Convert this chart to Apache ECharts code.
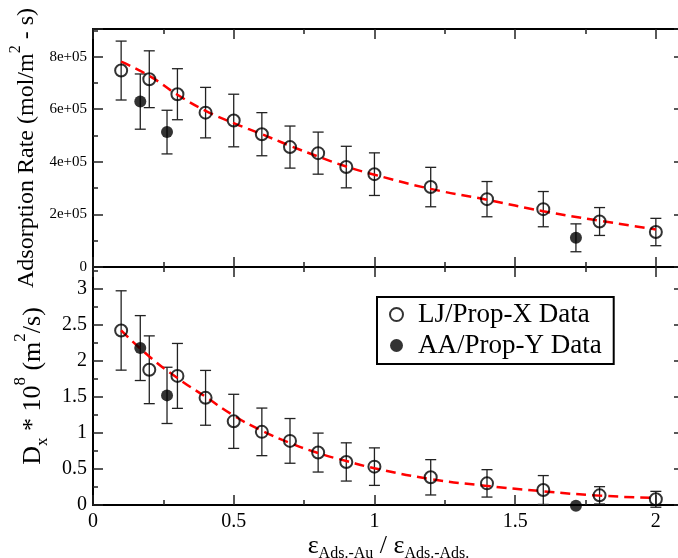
<!DOCTYPE html>
<html><head><meta charset="utf-8">
<script src="https://cdn.jsdelivr.net/npm/echarts@6/dist/echarts.min.js"></script>
<style>html,body{margin:0;padding:0;background:#fff}#c{width:678px;height:558px}</style>
</head><body><div id="c"></div><script>
// ---- data ----
const xLJ = [0.1, 0.2, 0.3, 0.4, 0.5, 0.6, 0.7, 0.8, 0.9, 1.0, 1.2, 1.4, 1.6, 1.8, 2.0];
const rateLJ = [747000, 714000, 657000, 587000, 557000, 505000, 456000, 433000, 380000, 353000, 304000, 258000, 220000, 173000, 133000];
const rateLJErr = [112000, 108000, 97000, 96000, 100000, 82000, 80000, 80000, 79000, 81000, 75000, 67000, 67000, 53000, 52000];
const rateFit = [781000, 727000, 655000, 594000, 547000, 505000, 461000, 420000, 382000, 351000, 297000, 256000, 212000, 176000, 143000];
const xAA = [0.168, 0.263, 1.716];
const rateAA = [629000, 513000, 111000];
const rateAAErr = [105000, 83000, 53000];
const diffLJ = [2.42, 1.875, 1.79, 1.486, 1.16, 1.014, 0.889, 0.727, 0.597, 0.532, 0.384, 0.30, 0.208, 0.134, 0.079];
const diffLJErr = [0.55, 0.47, 0.45, 0.38, 0.375, 0.33, 0.31, 0.27, 0.265, 0.26, 0.245, 0.19, 0.2, 0.12, 0.11];
const diffFit = [2.42, 2.06, 1.76, 1.50, 1.24, 1.03, 0.86, 0.72, 0.61, 0.51, 0.36, 0.265, 0.19, 0.13, 0.097];
const diffAA = [2.176, 1.52, -0.01];
const diffAAErr = [0.45, 0.39, 0];
const xTicks = [0, 0.5, 1, 1.5, 2];
const rateTicks = [0, 200000, 400000, 600000, 800000];
const diffTicks = [0, 0.5, 1, 1.5, 2, 2.5, 3];

const FONT = "'Liberation Serif','DejaVu Serif',serif";
const near = (v, arr) => arr.some(t => Math.abs(t - v) < 1e-6 * Math.max(1, Math.abs(t)));

function axis(kind, g, pos, minor, extra) {
  const a = {
    type: 'value', gridIndex: g, position: pos,
    axisLine: { show: !minor, onZero: false, lineStyle: { color: '#000', width: 2 } },
    axisTick: { show: true, inside: true, length: minor ? 5 : 10, lineStyle: { color: '#222', width: 1.5 } },
    splitLine: { show: false },
    axisLabel: { show: false }
  };
  return Object.assign(a, extra);
}
const xAxes = [], yAxes = [];
for (let g = 0; g < 2; g++) {
  for (const pos of ['bottom', 'top']) {
    for (const minor of [false, true]) {
      const ex = { min: 0, max: 2.1, interval: minor ? 0.25 : 0.5 };
      if (g === 1 && pos === 'bottom' && !minor) {
        ex.axisLabel = { show: true, margin: 7, color: '#000', fontFamily: FONT, fontSize: 20,
          formatter: v => near(v, xTicks) ? String(v) : '' };
        ex.name = '{e|ε}{s|Ads.-Au}{e| / ε}{s|Ads.-Ads.}';
        ex.nameLocation = 'middle';
        ex.nameGap = 18;
        ex.nameTextStyle = { fontFamily: FONT, color: '#000', rich: {
          e: { fontFamily: FONT, fontSize: 26, color: '#000', verticalAlign: 'top', lineHeight: 26 },
          s: { fontFamily: FONT, fontSize: 16, color: '#000', verticalAlign: 'top', padding: [13, 0, 0, 0], lineHeight: 16 } } };
      }
      xAxes.push(axis('x', g, pos, minor, ex));
    }
  }
  for (const pos of ['left', 'right']) {
    for (const minor of [false, true]) {
      const ex = g === 0 ? { min: 0, max: 905000, interval: minor ? 100000 : 200000 }
                         : { min: 0, max: 3.3, interval: minor ? 0.25 : 0.5 };
      if (pos === 'left' && !minor) {
        if (g === 0) {
          ex.axisLabel = { show: true, margin: 6, color: '#000', fontFamily: FONT, fontSize: 15,
            formatter: v => !near(v, rateTicks) ? '' : (v === 0 ? '0' : Math.round(v / 100000) + 'e+05') };
          ex.name = '{n|Adsorption Rate (mol/m}{p|2}{n| - s)}';
          ex.nameGap = 54;
          ex.nameTextStyle = { fontFamily: FONT, color: '#000', rich: {
            n: { fontFamily: FONT, fontSize: 24, color: '#000', verticalAlign: 'top', padding: [7, 0, 0, 0], lineHeight: 24 },
            p: { fontFamily: FONT, fontSize: 16, color: '#000', verticalAlign: 'top', lineHeight: 16 } } };
        } else {
          ex.axisLabel = { show: true, margin: 6, color: '#000', fontFamily: FONT, fontSize: 20,
            formatter: v => near(v, diffTicks) ? String(v) : '' };
          ex.name = '{n|D}{b|x}{n| * 10}{p|8}{n| (m}{p|2}{n|/s)}';
          ex.nameGap = 34;
          ex.nameTextStyle = { fontFamily: FONT, color: '#000', rich: {
            n: { fontFamily: FONT, fontSize: 26, color: '#000', verticalAlign: 'top', padding: [8, 0, 0, 0], lineHeight: 26 },
            p: { fontFamily: FONT, fontSize: 17, color: '#000', verticalAlign: 'top', lineHeight: 17 },
            b: { fontFamily: FONT, fontSize: 17, color: '#000', verticalAlign: 'top', padding: [22, 0, 0, 0], lineHeight: 17 } } };
        }
        ex.nameLocation = 'middle';
        ex.nameRotate = 90;
      }
      yAxes.push(axis('y', g, pos, minor, ex));
    }
  }
}

function errItem(params, api) {
  const x = api.value(0), y = api.value(1), e = api.value(2);
  const t = api.coord([x, y + e]), b = api.coord([x, y - e]);
  const w = 5.5, st = { stroke: '#222', lineWidth: 1.3 };
  if (e === 0) return null;
  return { type: 'group', children: [
    { type: 'line', shape: { x1: t[0], y1: t[1], x2: b[0], y2: b[1] }, style: st },
    { type: 'line', shape: { x1: t[0] - w, y1: t[1], x2: t[0] + w, y2: t[1] }, style: st },
    { type: 'line', shape: { x1: b[0] - w, y1: b[1], x2: b[0] + w, y2: b[1] }, style: st }
  ] };
}
function panelSeries(g, yLJ, eLJ, yFit, yAA, eAA) {
  const ax = { xAxisIndex: g * 4, yAxisIndex: g * 4 };
  return [
    Object.assign({ type: 'custom', renderItem: errItem, z: 2, clip: false, encode: { x: 0, y: 1 },
      data: xLJ.map((x, i) => [x, yLJ[i], eLJ[i]]) }, ax),
    Object.assign({ type: 'custom', renderItem: errItem, z: 2, clip: false, encode: { x: 0, y: 1 },
      data: xAA.map((x, i) => [x, yAA[i], eAA[i]]) }, ax),
    Object.assign({ type: 'line', name: 'fit', z: 3, smooth: true, showSymbol: false, symbol: 'none',
      lineStyle: { color: '#ff0000', width: 2.5, type: [10, 6] },
      data: xLJ.map((x, i) => [x, yFit[i]]) }, ax),
    Object.assign({ type: 'scatter', name: 'LJ/Prop-X Data', z: 4, clip: false, symbol: 'circle', symbolSize: 12,
      itemStyle: { color: 'rgba(0,0,0,0)', borderColor: '#000', borderWidth: 2 },
      data: xLJ.map((x, i) => [x, yLJ[i]]) }, ax),
    Object.assign({ type: 'scatter', name: 'AA/Prop-Y Data', z: 4, clip: false, symbol: 'circle', symbolSize: 12,
      itemStyle: { color: '#000', borderColor: '#000', borderWidth: 0 },
      data: xAA.map((x, i) => [x, yAA[i]]) }, ax)
  ];
}

const chart = echarts.init(document.getElementById('c'), null, { renderer: 'canvas' });
chart.setOption({
  animation: false,
  backgroundColor: '#fff',
  grid: [
    { left: 93, top: 29, width: 591, height: 238, containLabel: false, outerBoundsMode: 'none' },
    { left: 93, top: 267, width: 591, height: 238, containLabel: false, outerBoundsMode: 'none' }
  ],
  xAxis: xAxes,
  yAxis: yAxes,
  legend: {
    data: ['LJ/Prop-X Data', 'AA/Prop-Y Data'],
    orient: 'vertical', left: 377, top: 297,
    padding: [4, 12, 5, 12], itemGap: 4, itemWidth: 13, itemHeight: 13,
    borderColor: '#000', borderWidth: 2, borderRadius: 0,
    textStyle: { fontFamily: FONT, fontSize: 27, color: '#000', padding: [0, 0, 0, 10] },
    selectedMode: false
  },
  series: [].concat(
    panelSeries(0, rateLJ, rateLJErr, rateFit, rateAA, rateAAErr),
    panelSeries(1, diffLJ, diffLJErr, diffFit, diffAA, diffAAErr)
  )
});
</script></body></html>
